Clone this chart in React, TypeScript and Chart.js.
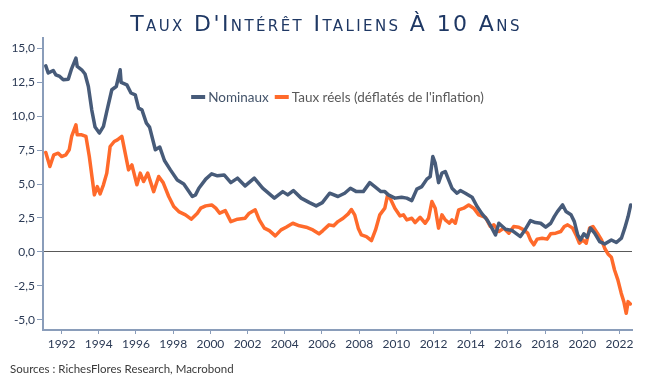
import React, { useEffect, useRef } from "react";
import { Chart, registerables } from "chart.js";

Chart.register(...registerables);

const TITLE = "Taux D'Intérêt Italiens À 10 Ans";
const SOURCE = "Sources : RichesFlores Research, Macrobond";
const SERIES_LABELS = ["Nominaux", "Taux réels (déflatés de l'inflation)"];

const X_TICKS = [1992, 1994, 1996, 1998, 2000, 2002, 2004, 2006, 2008, 2010, 2012, 2014, 2016, 2018, 2020, 2022];
const Y_TICKS = [-5, -2.5, 0, 2.5, 5, 7.5, 10, 12.5, 15];

const nominalDates = [
  1991.15, 1991.28, 1991.55, 1991.69, 1991.9, 1992.09, 1992.36, 1992.54, 1992.77, 1992.84,
  1993.08, 1993.26, 1993.44, 1993.62, 1993.8, 1994.03, 1994.25, 1994.43, 1994.7, 1994.94,
  1995.15, 1995.2, 1995.51, 1995.73, 1995.96, 1996.14, 1996.32, 1996.56, 1996.73, 1997.04,
  1997.28, 1997.53, 1997.85, 1998.22, 1998.57, 1999.03, 1999.2, 1999.38, 1999.75, 2000.07,
  2000.38, 2000.74, 2001.1, 2001.46, 2001.87, 2002.36, 2002.81, 2003.44, 2003.89, 2004.16,
  2004.46, 2004.88, 2005.33, 2005.69, 2006.02, 2006.41, 2006.86, 2007.22, 2007.53, 2007.85,
  2008.22, 2008.57, 2008.84, 2009.17, 2009.38, 2009.57, 2009.92, 2010.28, 2010.56, 2010.83,
  2011.1, 2011.37, 2011.64, 2011.82, 2011.96, 2012.09, 2012.27, 2012.45, 2012.63, 2012.81,
  2012.99, 2013.26, 2013.44, 2013.71, 2014.07, 2014.34, 2014.61, 2014.88, 2015.11, 2015.33,
  2015.51, 2015.87, 2016.23, 2016.67, 2016.94, 2017.21, 2017.48, 2017.76, 2018.03, 2018.3,
  2018.49, 2018.66, 2018.94, 2019.12, 2019.39, 2019.57, 2019.75, 2019.9, 2020.08, 2020.26,
  2020.44, 2020.66, 2020.93, 2021.2, 2021.56, 2021.83, 2022.1, 2022.28, 2022.46, 2022.6,
];
const nominalValues = [
  13.7, 13.17, 13.36, 13.04, 12.92, 12.67, 12.72, 13.5, 14.27, 13.66,
  13.41, 13.1, 12.18, 10.46, 9.19, 8.75, 9.24, 10.34, 11.94, 12.18,
  13.41, 12.48, 12.3, 11.7, 11.57, 10.59, 10.46, 9.48, 9.19, 7.52,
  7.72, 6.73, 6.04, 5.3, 5.0, 4.08, 4.2, 4.69, 5.36, 5.75,
  5.6, 5.67, 5.1, 5.43, 4.86, 5.43, 4.69, 3.96, 4.44, 4.2,
  4.52, 3.96, 3.63, 3.39, 3.63, 4.32, 4.08, 4.32, 4.69, 4.44,
  4.44, 5.1, 4.81, 4.44, 4.44, 4.2, 3.96, 4.03, 3.96, 3.78,
  4.62, 4.81, 5.36, 5.55, 7.02, 6.53, 5.1, 5.8, 5.92, 5.3,
  4.69, 4.32, 4.52, 4.32, 4.03, 3.34, 2.8, 2.36, 1.82, 1.25,
  2.11, 1.67, 1.57, 1.13, 1.67, 2.31, 2.16, 2.11, 1.82, 2.11,
  2.6, 2.97, 3.46, 2.97, 2.73, 2.23, 1.25, 0.88, 1.33, 1.08,
  1.75, 1.38, 0.76, 0.59, 0.88, 0.69, 1.01, 1.75, 2.6, 3.46,
];

const realDates = [
  1991.15, 1991.37, 1991.58, 1991.82, 1992.0, 1992.23, 1992.41, 1992.54, 1992.77, 1992.84,
  1993.08, 1993.31, 1993.49, 1993.68, 1993.76, 1993.92, 1994.07, 1994.25, 1994.43, 1994.61,
  1994.83, 1995.0, 1995.24, 1995.42, 1995.6, 1995.78, 1996.05, 1996.23, 1996.41, 1996.63,
  1996.95, 1997.22, 1997.46, 1997.76, 1998.03, 1998.3, 1998.66, 1998.97, 1999.3, 1999.48,
  1999.75, 2000.07, 2000.29, 2000.5, 2000.8, 2001.1, 2001.46, 2001.87, 2002.09, 2002.41,
  2002.63, 2002.9, 2003.17, 2003.49, 2003.8, 2004.07, 2004.43, 2004.79, 2005.15, 2005.51,
  2005.84, 2006.05, 2006.38, 2006.63, 2006.86, 2007.14, 2007.41, 2007.58, 2007.76, 2007.95,
  2008.12, 2008.39, 2008.66, 2008.88, 2009.11, 2009.38, 2009.53, 2009.71, 2009.92, 2010.2,
  2010.38, 2010.56, 2010.83, 2011.01, 2011.28, 2011.55, 2011.73, 2011.91, 2012.09, 2012.27,
  2012.45, 2012.63, 2012.85, 2012.99, 2013.17, 2013.35, 2013.62, 2013.89, 2014.16, 2014.43,
  2014.79, 2015.05, 2015.24, 2015.51, 2015.78, 2016.05, 2016.31, 2016.58, 2016.85, 2017.06,
  2017.21, 2017.39, 2017.57, 2017.84, 2018.11, 2018.3, 2018.57, 2018.84, 2019.03, 2019.21,
  2019.48, 2019.66, 2019.84, 2020.03, 2020.21, 2020.39, 2020.57, 2020.81, 2021.03, 2021.2,
  2021.38, 2021.56, 2021.73, 2021.91, 2022.09, 2022.23, 2022.36, 2022.46, 2022.58,
];
const realValues = [
  7.32, 6.29, 7.15, 7.27, 7.02, 7.15, 7.52, 8.5, 9.36, 8.62,
  8.62, 8.5, 7.02, 5.06, 4.2, 4.81, 4.27, 4.94, 5.8, 7.76,
  8.13, 8.25, 8.5, 7.27, 6.04, 6.41, 4.94, 5.8, 5.18, 5.8,
  4.44, 5.55, 5.1, 4.08, 3.34, 2.97, 2.73, 2.41, 2.85, 3.22,
  3.39, 3.46, 3.22, 2.85, 3.04, 2.23, 2.41, 2.48, 2.85, 3.1,
  2.36, 1.75, 1.57, 1.18, 1.62, 1.82, 2.11, 1.92, 1.82, 1.62,
  1.33, 1.57, 1.99, 1.92, 2.23, 2.48, 2.8, 3.12, 2.73, 1.75,
  1.25, 1.13, 0.83, 1.62, 2.73, 3.22, 4.2, 3.83, 3.22, 2.65,
  2.73, 2.36, 2.48, 2.16, 2.55, 2.11, 2.48, 3.71, 3.22, 1.75,
  2.73, 2.36, 2.11, 2.36, 2.11, 3.1, 3.22, 3.46, 3.22, 2.73,
  2.55, 1.87, 1.99, 1.5, 1.75, 1.38, 1.87, 1.82, 1.62, 1.38,
  0.88, 0.52, 0.94, 1.01, 0.94, 1.33, 1.38, 1.5, 1.87, 1.99,
  1.75, 1.25, 0.64, 0.88, 0.64, 1.75, 1.87, 1.38, 0.88, 0.27,
  -0.15, -0.39, -1.33, -2.06, -3.04, -3.66, -4.52, -3.66, -3.83,
];

const BLUE = "#475B79";
const ORANGE = "#FF6A2B";
const AXIS = "#8A9DBA";
const TICK_TEXT = "#2B3A55";

const overlayPlugin = {
  id: "overlay",
  beforeDraw(chart: any) {
    const ctx = chart.ctx;
    ctx.save();
    ctx.fillStyle = "#ffffff";
    ctx.fillRect(0, 0, chart.width, chart.height);
    ctx.restore();
  },
  afterDraw(chart: any) {
    const ctx = chart.ctx;
    const area = chart.chartArea;
    // Title
    ctx.save();
    ctx.font = 'small-caps 22px "DejaVu Sans"';
    try { (ctx as any).fontVariantCaps = "small-caps"; } catch (e) {}
    try { (ctx as any).letterSpacing = "2.4px"; } catch (e) {}
    ctx.fillStyle = "#1F3864";
    ctx.textAlign = "center";
    ctx.textBaseline = "alphabetic";
    ctx.fillText(TITLE, chart.width / 2 + 2, 31);
    ctx.restore();

    // Legend
    ctx.save();
    ctx.font = '13.5px Lato';
    ctx.textBaseline = "alphabetic";
    const markerW = 14;
    const gapText = 3;
    const gapItems = 6;
    const colors = [BLUE, ORANGE];
    const textColors = ["#44546A", "#595959"];
    const widths = SERIES_LABELS.map((l) => ctx.measureText(l).width);
    const total = widths.reduce((a, w) => a + markerW + gapText + w, 0) + gapItems * (SERIES_LABELS.length - 1);
    let x = (area.left + area.right) / 2 - total / 2;
    const yMid = area.top + 59;
    SERIES_LABELS.forEach((label, i) => {
      ctx.fillStyle = colors[i];
      ctx.fillRect(x, yMid - 2, markerW, 4);
      x += markerW + gapText;
      ctx.fillStyle = textColors[i];
      ctx.fillText(label, x, yMid + 5);
      x += widths[i] + gapItems;
    });
    ctx.restore();

    // Source
    ctx.save();
    ctx.font = '11.5px Lato';
    ctx.fillStyle = "#3A3A3A";
    ctx.textBaseline = "alphabetic";
    ctx.fillText(SOURCE, 10, 373);
    ctx.restore();
  },
};

export default function App() {
  const canvasRef = useRef<HTMLCanvasElement | null>(null);

  useEffect(() => {
    const canvas = canvasRef.current;
    if (!canvas) return;
    const chart = new Chart(canvas, {
      type: "line",
      data: {
        datasets: [
          {
            label: SERIES_LABELS[0],
            data: nominalDates.map((x, i) => ({ x, y: nominalValues[i] })),
            borderColor: BLUE,
            backgroundColor: BLUE,
            borderWidth: 3.5,
            pointRadius: 0,
            tension: 0,
            fill: false,
            borderJoinStyle: "round",
            borderCapStyle: "round",
          },
          {
            label: SERIES_LABELS[1],
            data: realDates.map((x, i) => ({ x, y: realValues[i] })),
            borderColor: ORANGE,
            backgroundColor: ORANGE,
            borderWidth: 3.5,
            pointRadius: 0,
            tension: 0,
            fill: false,
            borderJoinStyle: "round",
            borderCapStyle: "round",
          },
        ],
      },
      options: {
        animation: false,
        responsive: false,
        maintainAspectRatio: false,
        layout: { padding: { left: 0, right: 16, top: 38, bottom: 29 } },
        plugins: {
          legend: { display: false },
          title: { display: false },
          tooltip: { enabled: false },
        },
        scales: {
          x: {
            type: "linear",
            min: 1991,
            max: 2022.67,
            afterBuildTicks: (s: any) => {
              s.ticks = X_TICKS.map((v) => ({ value: v }));
            },
            afterFit: (s: any) => {
              s.height = 30;
            },
            ticks: {
              autoSkip: false,
              maxRotation: 0,
              padding: 3,
              color: TICK_TEXT,
              font: { family: "Lato", size: 12 },
              callback: (v: any) => String(v),
            },
            grid: { drawOnChartArea: false, drawTicks: true, tickLength: 4, tickColor: AXIS },
            border: { color: AXIS, width: 2 },
          },
          y: {
            type: "linear",
            min: -5.75,
            max: 15.75,
            afterBuildTicks: (s: any) => {
              s.ticks = Y_TICKS.map((v) => ({ value: v }));
            },
            afterFit: (s: any) => {
              s.width = 43;
            },
            ticks: {
              padding: 2,
              color: TICK_TEXT,
              font: { family: "Lato", size: 12 },
              callback: (v: any) => Number(v).toFixed(1).replace(".", ","),
            },
            grid: {
              drawOnChartArea: true,
              drawTicks: true,
              tickLength: 6,
              tickColor: AXIS,
              lineWidth: 1,
              color: (c: any) => (c.tick && c.tick.value === 0 ? "#595959" : "rgba(0,0,0,0)"),
            },
            border: { color: AXIS, width: 2 },
          },
        },
      },
      plugins: [overlayPlugin],
    });
    return () => chart.destroy();
  }, []);

  return (
    <div style={{ position: "absolute", left: 0, top: 0, width: 648, height: 389 }}>
      <canvas ref={canvasRef} width={648} height={389} style={{ width: 648, height: 389, display: "block" }} />
    </div>
  );
}
